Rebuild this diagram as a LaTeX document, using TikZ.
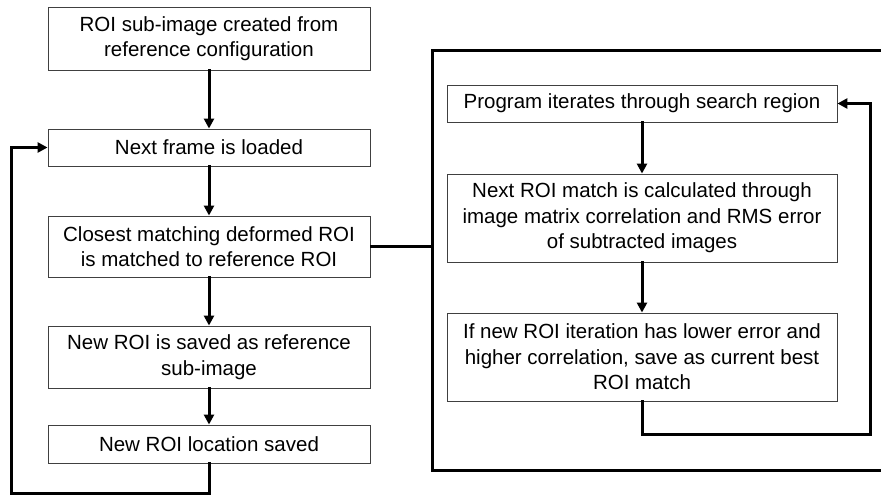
\documentclass[tikz,border=0pt]{standalone}
\usepackage{fontspec}
\setmainfont{Liberation Sans}
\usetikzlibrary{arrows.meta}

\tikzset{
  stepbox/.style={draw=black!75, line width=0.9pt, fill=white, inner sep=0pt,
    align=center, font=\fontsize{20.5}{25.5}\selectfont},
  leftbox/.style={stepbox, minimum width=322pt},
  innerbox/.style={stepbox, minimum width=390pt},
  conn/.style={line width=3pt, line cap=rect, -{Triangle[length=10pt,width=10pt]}},
  plainline/.style={line width=3pt, line cap=rect},
}

\begin{document}
\begin{tikzpicture}[x=1pt, y=-1pt]
\useasboundingbox (0,0) rectangle (881,495);

% main sequence
\node[leftbox, minimum height=63pt] (b1) at (209,38.5) {ROI sub-image created from\\reference configuration};
\node[leftbox, minimum height=37pt] (b2) at (209,147.5) {Next frame is loaded};
\node[leftbox, minimum height=61pt] (b3) at (209,246.5) {Closest matching deformed ROI\\is matched to reference ROI};
\node[leftbox, minimum height=62pt] (b4) at (209,357) {New ROI is saved as reference\\sub-image};
\node[leftbox, minimum height=38pt] (b5) at (209,444) {New ROI location saved};

% search loop frame (right side runs off the page)
\coordinate (ftop) at (881,51);
\coordinate (fbot) at (881,470);
\coordinate (fleft) at (432,246.5);
\draw[plainline, line cap=butt] (ftop) -| (432,470) -- (fbot);

% search loop steps
\node[innerbox, minimum height=37pt] (i1) at (642,103.5) {Program iterates through search region};
\node[innerbox, minimum height=88pt] (i2) at (642,218) {Next ROI match is calculated through\\image matrix correlation and RMS error\\of subtracted images};
\node[innerbox, minimum height=88pt] (i3) at (642,357) {If new ROI iteration has lower error and\\higher correlation, save as current best\\ROI match};

% connectors
\draw[conn] (b1) -- (b2);
\draw[conn] (b2) -- (b3);
\draw[conn] (b3) -- (b4);
\draw[conn] (b4) -- (b5);
\draw[plainline, line cap=butt] (b3.east) -- (fleft);

\coordinate (lb) at (11,493);
\draw[conn] (b5.south) |- (lb) |- (b2.west);

\draw[conn] (i1) -- (i2);
\draw[conn] (i2) -- (i3);
\coordinate (rl) at (870,434);
\draw[conn] (i3.south) |- (rl) |- (i1.east);
\end{tikzpicture}
\end{document}
